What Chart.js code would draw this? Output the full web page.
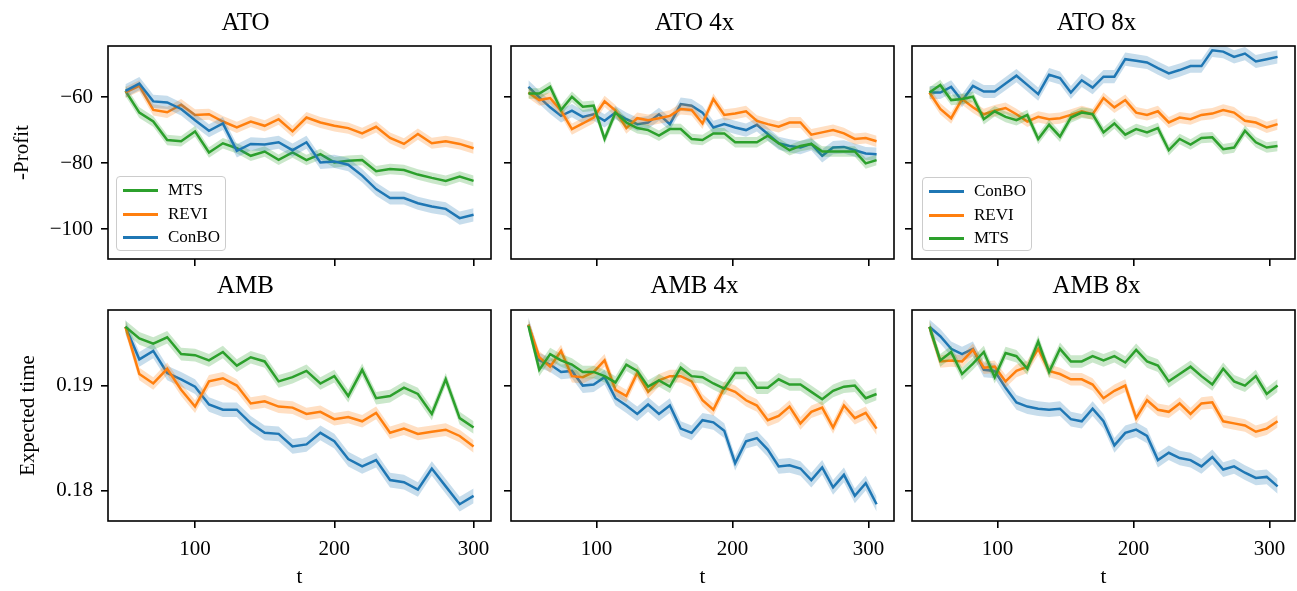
<!DOCTYPE html>
<html>
<head>
<meta charset="utf-8">
<script src="https://cdn.jsdelivr.net/npm/chart.js@4/dist/chart.umd.min.js"></script>
<style>
  body { margin: 0; background: #fff; width: 1297px; height: 591px; position: relative; overflow: hidden; font-family: "Liberation Serif", serif; }
  canvas { position: absolute; }
  .legend { position: absolute; box-sizing: border-box; border: 1px solid #cccccc; border-radius: 4px; background: rgba(255,255,255,0.8); font-size: 17px; color: #000; }
  .legend .row { position: absolute; left: 0; height: 20px; width: 100%; }
  .legend .swatch { position: absolute; left: 6px; top: 9px; width: 35px; height: 3px; }
  .legend .label { position: absolute; left: 51px; top: 0; line-height: 20px; }
</style>
</head>
<body>
<canvas id="c1"></canvas>
<canvas id="c2"></canvas>
<canvas id="c3"></canvas>
<canvas id="c4"></canvas>
<canvas id="c5"></canvas>
<canvas id="c6"></canvas>
<div id="leg1" class="legend" style="left:116px;top:176px;width:110px;height:75px;"></div>
<div id="leg3" class="legend" style="left:922px;top:177px;width:110px;height:74px;"></div>
<script>
// t values: 26 evaluations (step 10) and 33 evaluations (step 8)
const tBase = [50, 60, 70, 80, 90, 100, 110, 120, 130, 140, 150, 160, 170, 180, 190, 200, 210, 220, 230, 240, 250, 260, 270, 280, 290, 300];
const tLong = [50, 58, 66, 74, 82, 90, 98, 106, 114, 122, 130, 138, 146, 154, 162, 170, 178, 186, 194, 202, 210, 218, 226, 234, 242, 250, 258, 266, 274, 282, 290, 298, 306];

const xTicks = [100, 200, 300];
const yTicksProfit = [-60, -80, -100];
const yTicksTime = [0.18, 0.19];

// ATO
const atoMts = [-58.1, -64.7, -67.4, -73.0, -73.4, -70.4, -76.8, -74.0, -75.5, -77.8, -76.5, -79.0, -76.8, -79.1, -77.3, -79.8, -79.3, -79.1, -82.5, -81.8, -82.1, -83.5, -84.5, -85.4, -84.1, -85.4];
const atoRevi = [-58.6, -56.6, -63.9, -64.6, -62.3, -65.4, -65.2, -67.4, -69.2, -67.4, -68.7, -66.7, -70.4, -66.2, -67.7, -68.7, -69.4, -71.0, -69.0, -72.4, -74.2, -71.2, -74.0, -73.4, -74.2, -75.5];
const atoConbo = [-58.1, -55.9, -61.3, -61.6, -63.6, -67.0, -70.2, -68.0, -76.3, -74.2, -74.4, -73.7, -76.1, -73.7, -79.8, -79.5, -80.5, -83.8, -87.9, -90.6, -90.6, -92.2, -93.2, -93.9, -96.7, -95.7];

// ATO 4x
const ato4Conbo = [-56.9, -60.1, -63.1, -65.7, -64.1, -66.0, -65.2, -67.2, -64.7, -66.7, -68.2, -67.7, -65.2, -68.2, -62.1, -62.6, -64.7, -69.2, -68.2, -69.2, -70.0, -68.4, -71.2, -74.0, -74.8, -75.3, -74.2, -77.8, -75.3, -75.1, -76.1, -77.1, -77.3];
const ato4Revi = [-58.6, -60.9, -60.3, -64.1, -69.7, -68.0, -66.2, -61.3, -64.1, -69.4, -66.4, -67.0, -66.4, -65.7, -63.6, -63.9, -68.0, -60.6, -65.4, -65.0, -64.3, -67.2, -68.2, -69.0, -67.7, -67.7, -71.4, -70.7, -70.0, -71.0, -72.7, -72.4, -73.4];
const ato4Mts = [-58.9, -58.9, -56.9, -63.9, -59.9, -62.9, -62.6, -72.7, -64.7, -67.7, -69.4, -70.0, -71.7, -69.7, -69.7, -72.7, -73.0, -71.0, -71.0, -73.7, -73.7, -73.7, -71.7, -74.0, -76.1, -74.8, -74.2, -76.5, -76.5, -76.5, -76.5, -80.1, -79.1];

// ATO 8x
const ato8Conbo = [-58.6, -58.6, -56.9, -61.1, -56.6, -58.3, -58.3, -55.9, -53.5, -56.3, -59.1, -53.2, -54.2, -58.6, -54.9, -57.1, -53.8, -53.8, -48.5, -49.0, -49.5, -51.2, -52.8, -51.8, -50.6, -50.6, -45.8, -46.2, -47.8, -46.8, -49.2, -48.5, -47.8];
const ato8Revi = [-58.6, -63.6, -66.4, -60.6, -63.1, -65.2, -64.1, -63.3, -65.2, -67.4, -66.0, -66.7, -66.4, -65.4, -64.3, -65.2, -60.3, -63.1, -60.9, -64.7, -65.4, -64.3, -67.7, -66.2, -66.7, -65.4, -65.0, -63.9, -64.7, -67.2, -67.7, -69.2, -68.2];
const ato8Mts = [-58.6, -56.3, -60.9, -60.6, -59.9, -66.7, -64.3, -66.0, -67.0, -65.4, -72.7, -68.4, -72.0, -66.2, -64.7, -65.2, -70.7, -68.0, -71.4, -69.7, -70.7, -69.4, -76.1, -72.7, -74.4, -72.4, -72.2, -75.8, -75.3, -70.2, -73.7, -75.3, -74.8];

// AMB
const ambMts = [0.1956, 0.1945, 0.1940, 0.1946, 0.1930, 0.1929, 0.1924, 0.1932, 0.1919, 0.1927, 0.1923, 0.1904, 0.1908, 0.1914, 0.1902, 0.1909, 0.1890, 0.1915, 0.1888, 0.1890, 0.1898, 0.1892, 0.1873, 0.1906, 0.1869, 0.1860];
const ambRevi = [0.1956, 0.1911, 0.1902, 0.1916, 0.1896, 0.1880, 0.1904, 0.1907, 0.1900, 0.1883, 0.1885, 0.1880, 0.1879, 0.1873, 0.1875, 0.1868, 0.1870, 0.1866, 0.1874, 0.1855, 0.1859, 0.1854, 0.1856, 0.1858, 0.1852, 0.1842];
const ambConbo = [0.1956, 0.1925, 0.1933, 0.1912, 0.1906, 0.1899, 0.1882, 0.1877, 0.1877, 0.1864, 0.1855, 0.1854, 0.1842, 0.1844, 0.1855, 0.1847, 0.1830, 0.1823, 0.1829, 0.1810, 0.1808, 0.1801, 0.1821, 0.1804, 0.1787, 0.1795];

// AMB 4x
const amb4Conbo = [0.1958, 0.1924, 0.1920, 0.1913, 0.1914, 0.1900, 0.1901, 0.1908, 0.1888, 0.1881, 0.1873, 0.1882, 0.1873, 0.1881, 0.1859, 0.1855, 0.1867, 0.1865, 0.1857, 0.1826, 0.1847, 0.1850, 0.1839, 0.1823, 0.1824, 0.1821, 0.1810, 0.1822, 0.1803, 0.1815, 0.1795, 0.1807, 0.1787];
const amb4Revi = [0.1958, 0.1927, 0.1918, 0.1933, 0.1909, 0.1908, 0.1913, 0.1924, 0.1896, 0.1890, 0.1912, 0.1894, 0.1905, 0.1909, 0.1909, 0.1904, 0.1886, 0.1877, 0.1898, 0.1894, 0.1886, 0.1881, 0.1867, 0.1871, 0.1880, 0.1864, 0.1875, 0.1879, 0.1860, 0.1881, 0.1869, 0.1874, 0.1859];
const amb4Mts = [0.1957, 0.1915, 0.1930, 0.1924, 0.1920, 0.1913, 0.1913, 0.1909, 0.1903, 0.1920, 0.1914, 0.1899, 0.1905, 0.1899, 0.1917, 0.1909, 0.1908, 0.1902, 0.1897, 0.1912, 0.1912, 0.1898, 0.1898, 0.1906, 0.1901, 0.1901, 0.1894, 0.1887, 0.1895, 0.1899, 0.1900, 0.1888, 0.1892];

// AMB 8x
const amb8Conbo = [0.1956, 0.1947, 0.1935, 0.1930, 0.1935, 0.1915, 0.1914, 0.1898, 0.1884, 0.1880, 0.1878, 0.1877, 0.1878, 0.1868, 0.1866, 0.1878, 0.1866, 0.1843, 0.1855, 0.1858, 0.1852, 0.1829, 0.1836, 0.1831, 0.1829, 0.1823, 0.1832, 0.1820, 0.1823, 0.1817, 0.1812, 0.1813, 0.1804];
const amb8Revi = [0.1956, 0.1923, 0.1924, 0.1923, 0.1934, 0.1917, 0.1918, 0.1904, 0.1914, 0.1918, 0.1935, 0.1914, 0.1911, 0.1906, 0.1906, 0.1901, 0.1888, 0.1895, 0.1900, 0.1869, 0.1886, 0.1877, 0.1875, 0.1883, 0.1873, 0.1883, 0.1884, 0.1866, 0.1864, 0.1862, 0.1856, 0.1859, 0.1866];
const amb8Mts = [0.1956, 0.1924, 0.1932, 0.1911, 0.1921, 0.1932, 0.1908, 0.1931, 0.1928, 0.1916, 0.1942, 0.1913, 0.1935, 0.1923, 0.1923, 0.1928, 0.1924, 0.1928, 0.1922, 0.1934, 0.1923, 0.1919, 0.1904, 0.1911, 0.1918, 0.1909, 0.1901, 0.1916, 0.1904, 0.1900, 0.1909, 0.1892, 0.1900];

// half width of the shaded bands
const errProfit = { ConBO: 2.0, REVI: 1.7, MTS: 1.6 };
const errTime = { ConBO: 0.0007, REVI: 0.0006, MTS: 0.0006 };

const colors = { ConBO: '#1f77b4', REVI: '#ff7f0e', MTS: '#2ca02c' };
const FONT = 'Liberation Serif';

Chart.defaults.font.family = FONT;
Chart.defaults.color = '#000';

function fade(hex, a) {
  const n = parseInt(hex.slice(1), 16);
  return `rgba(${(n >> 16) & 255}, ${(n >> 8) & 255}, ${n & 255}, ${a})`;
}

// the first series in the list ends up drawn on top
function buildDatasets(t, series, errs) {
  const out = [];
  series.forEach(s => {
    const err = errs[s.name];
    out.push({ label: s.name, data: t.map((x, i) => ({ x, y: s.values[i] })), borderColor: colors[s.name], borderWidth: 2.5, fill: false });
    out.push({ label: s.name + ' hi', data: t.map((x, i) => ({ x, y: s.values[i] + err })), borderColor: 'rgba(0,0,0,0)', borderWidth: 0, backgroundColor: fade(colors[s.name], 0.25), fill: '+1' });
    out.push({ label: s.name + ' lo', data: t.map((x, i) => ({ x, y: s.values[i] - err })), borderColor: 'rgba(0,0,0,0)', borderWidth: 0, fill: false });
  });
  return out;
}

const framePlugin = {
  id: 'frame',
  afterDraw(chart) {
    const { ctx, chartArea: a } = chart;
    ctx.save();
    ctx.strokeStyle = '#000';
    ctx.lineWidth = 1.6;
    ctx.strokeRect(a.left, a.top, a.right - a.left, a.bottom - a.top);
    ctx.restore();
  }
};

function makePanel(p) {
  const cv = document.getElementById(p.id);
  cv.width = p.w; cv.height = p.h;
  cv.style.left = p.left + 'px'; cv.style.top = p.top + 'px';
  const xMax = p.t === tBase ? 312.5 : 318.8;
  const xMin = p.t === tBase ? 37.5 : 37.2;
  const profit = p.kind === 'profit';

  new Chart(cv, {
    type: 'line',
    data: { datasets: buildDatasets(p.t, p.series, profit ? errProfit : errTime) },
    options: {
      responsive: false,
      animation: false,
      events: [],
      elements: { point: { radius: 0 }, line: { tension: 0 } },
      layout: { padding: { left: 0, right: 2, top: 0, bottom: 0 } },
      plugins: {
        legend: { display: false },
        tooltip: { enabled: false },
        title: { display: true, text: p.title, color: '#000', font: { family: FONT, size: 25, weight: 'normal' }, padding: { top: p.titleTop, bottom: p.titleBottom } }
      },
      scales: {
        x: {
          type: 'linear', min: xMin, max: xMax,
          afterBuildTicks: ax => { ax.ticks = xTicks.map(v => ({ value: v })); },
          afterFit: ax => { ax.height = p.xAxisH; ax.paddingLeft = 0; ax.paddingRight = 0; },
          grid: { drawOnChartArea: false, drawTicks: true, tickLength: 7, color: '#000', lineWidth: 1.6 },
          border: { display: false },
          ticks: { color: '#000', font: { family: FONT, size: 21 }, padding: 9, maxRotation: 0, autoSkip: false, callback: v => p.xLabels ? String(v) : '' },
          title: { display: p.xLabels, text: 't', color: '#000', font: { family: FONT, size: 21 }, padding: { top: 0, bottom: 1 } }
        },
        y: {
          type: 'linear', min: profit ? -109.1 : 0.1771, max: profit ? -44.5 : 0.1972,
          afterBuildTicks: ax => { ax.ticks = (profit ? yTicksProfit : yTicksTime).map(v => ({ value: v })); },
          afterFit: ax => { ax.width = p.yAxisW; ax.paddingTop = 0; ax.paddingBottom = 0; },
          grid: { drawOnChartArea: false, drawTicks: true, tickLength: 7, color: '#000', lineWidth: 1.6 },
          border: { display: false },
          ticks: {
            color: '#000', font: { family: FONT, size: 21 }, padding: 8,
            callback: v => {
              if (!p.yLabel) return '';
              if (profit) return v < 0 ? '\u2212' + Math.abs(v) : String(v);
              return v.toFixed(2);
            }
          },
          title: { display: !!p.yLabel, text: p.yLabel || '', color: '#000', font: { family: FONT, size: 21 }, padding: { top: p.yTitlePad || 0, bottom: 0 } }
        }
      }
    },
    plugins: [framePlugin]
  });
}

const rowTop = { top: 0, h: 269, titleTop: 8, titleBottom: 8, xAxisH: 10, xLabels: false, kind: 'profit' };
const rowBottom = { top: 264, h: 327, titleTop: 7, titleBottom: 9, xAxisH: 70, xLabels: true, kind: 'time' };
const col = [
  { left: 0, w: 493, yAxisW: 108 },
  { left: 495, w: 401, yAxisW: 16 },
  { left: 898, w: 399, yAxisW: 14 }
];

makePanel(Object.assign({ id: 'c1', title: 'ATO', t: tBase, yLabel: '-Profit', yTitlePad: 10,
  series: [{ name: 'ConBO', values: atoConbo }, { name: 'REVI', values: atoRevi }, { name: 'MTS', values: atoMts }] }, rowTop, col[0]));
makePanel(Object.assign({ id: 'c2', title: 'ATO 4x', t: tLong,
  series: [{ name: 'MTS', values: ato4Mts }, { name: 'REVI', values: ato4Revi }, { name: 'ConBO', values: ato4Conbo }] }, rowTop, col[1]));
makePanel(Object.assign({ id: 'c3', title: 'ATO 8x', t: tLong,
  series: [{ name: 'MTS', values: ato8Mts }, { name: 'REVI', values: ato8Revi }, { name: 'ConBO', values: ato8Conbo }] }, rowTop, col[2]));
makePanel(Object.assign({ id: 'c4', title: 'AMB', t: tBase, yLabel: 'Expected time', yTitlePad: 16,
  series: [{ name: 'MTS', values: ambMts }, { name: 'REVI', values: ambRevi }, { name: 'ConBO', values: ambConbo }] }, rowBottom, col[0]));
makePanel(Object.assign({ id: 'c5', title: 'AMB 4x', t: tLong,
  series: [{ name: 'MTS', values: amb4Mts }, { name: 'REVI', values: amb4Revi }, { name: 'ConBO', values: amb4Conbo }] }, rowBottom, col[1]));
makePanel(Object.assign({ id: 'c6', title: 'AMB 8x', t: tLong,
  series: [{ name: 'MTS', values: amb8Mts }, { name: 'REVI', values: amb8Revi }, { name: 'ConBO', values: amb8Conbo }] }, rowBottom, col[2]));

function fillLegend(id, names) {
  const box = document.getElementById(id);
  names.forEach((n, i) => {
    const row = document.createElement('div');
    row.className = 'row';
    row.style.top = (3 + i * 23.5) + 'px';
    row.innerHTML = `<span class="swatch" style="background:${colors[n]}"></span><span class="label">${n}</span>`;
    box.appendChild(row);
  });
}
fillLegend('leg1', ['MTS', 'REVI', 'ConBO']);
fillLegend('leg3', ['ConBO', 'REVI', 'MTS']);
</script>
</body>
</html>
